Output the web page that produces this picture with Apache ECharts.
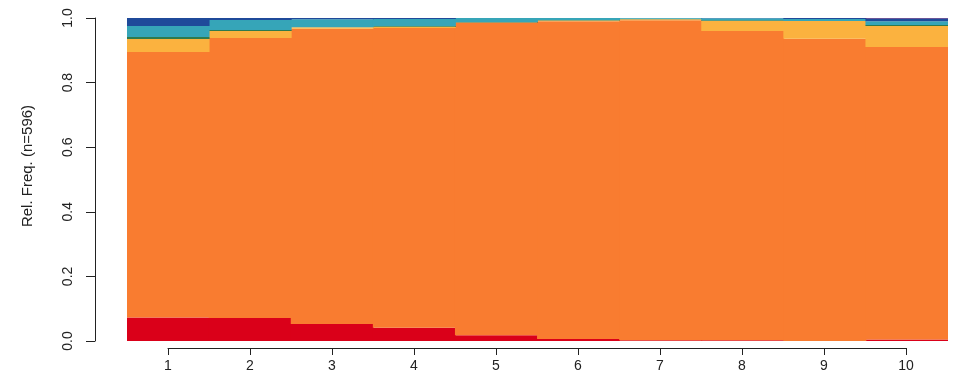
<!DOCTYPE html>
<html>
<head>
<meta charset="utf-8">
<script src="https://cdn.jsdelivr.net/npm/echarts@6/dist/echarts.min.js"></script>
<style>
  html, body { margin: 0; padding: 0; background: #ffffff; }
  #chart { width: 955px; height: 392px; }
</style>
</head>
<body>
<div id="chart"></div>
<script>
// Time positions (sequence steps)
const positions = ['1', '2', '3', '4', '5', '6', '7', '8', '9', '10'];

// Relative frequency of each state at each position (bottom to top)
const stateRed    = [0.073, 0.071, 0.053, 0.041, 0.018, 0.006, 0.002, 0.002, 0.000, 0.005];
const stateOrange = [0.822, 0.867, 0.914, 0.928, 0.968, 0.984, 0.991, 0.958, 0.936, 0.905];
const stateYellow = [0.040, 0.022, 0.004, 0.004, 0.000, 0.002, 0.003, 0.031, 0.055, 0.065];
const stateGreen  = [0.006, 0.003, 0.000, 0.002, 0.002, 0.002, 0.002, 0.002, 0.000, 0.003];
const stateTeal   = [0.034, 0.031, 0.025, 0.022, 0.012, 0.006, 0.002, 0.006, 0.006, 0.012];
const stateBlue   = [0.025, 0.006, 0.004, 0.003, 0.000, 0.000, 0.000, 0.001, 0.003, 0.008];
const statePurple = [0.000, 0.000, 0.000, 0.000, 0.000, 0.000, 0.000, 0.000, 0.000, 0.002];

const yTicks = [0, 0.2, 0.4, 0.6, 0.8, 1.0];
const yTitle = 'Rel. Freq. (n=596)';

const layers = [
  { data: stateRed,    color: '#DA0019' },
  { data: stateOrange, color: '#F97C30' },
  { data: stateYellow, color: '#FBB23F' },
  { data: stateGreen,  color: '#2F7A4E' },
  { data: stateTeal,   color: '#36A5B8' },
  { data: stateBlue,   color: '#1F4A9A' },
  { data: statePurple, color: '#4A2C80' }
];

const font = 'Liberation Sans, Arial, Helvetica, sans-serif';
const chart = echarts.init(document.getElementById('chart'), null, { renderer: 'canvas' });

chart.setOption({
  animation: false,
  backgroundColor: '#ffffff',
  grid: [
    { left: 127, right: 7, top: 18, bottom: 51 },
    // axis-only grid spanning the first to last position centre
    { left: 168, right: 49, top: 18, bottom: 51 }
  ],
  xAxis: [
    {
      type: 'category', gridIndex: 0, data: positions,
      boundaryGap: true, show: false
    },
    {
      type: 'value', gridIndex: 1, min: 1, max: 10, interval: 1,
      offset: 7,
      z: 5,
      splitLine: { show: false },
      axisLine: { show: true, onZero: false, lineStyle: { color: '#222', width: 1 } },
      axisTick: { show: true, length: 7, lineStyle: { color: '#222' } },
      axisLabel: {
        color: '#222', fontSize: 14, fontFamily: font, margin: 11,
        formatter: v => positions[v - 1]
      }
    }
  ],
  yAxis: [
    {
      type: 'value', gridIndex: 0, min: 0, max: 1, interval: 0.2,
      offset: 32,
      splitLine: { show: false },
      axisLine: { show: true, onZero: false, lineStyle: { color: '#222', width: 1 } },
      axisTick: { show: true, length: 9, lineStyle: { color: '#222' } },
      axisLabel: {
        color: '#222', fontSize: 14, fontFamily: font, rotate: 90, margin: 20,
        formatter: v => {
          const t = yTicks.find(k => Math.abs(k - v) < 1e-9);
          return (t === undefined ? v : t).toFixed(1);
        }
      }
    },
    { type: 'value', gridIndex: 1, min: 0, max: 1, show: false }
  ],
  series: layers.map((l, i) => ({
    type: 'bar',
    name: 'state' + (i + 1),
    xAxisIndex: 0,
    yAxisIndex: 0,
    stack: 'states',
    barWidth: 83,
    data: l.data,
    itemStyle: { color: l.color, borderWidth: 0 },
    silent: true
  })),
  graphic: [
    {
      type: 'text',
      x: 28, y: 166,
      rotation: Math.PI / 2,
      style: {
        text: yTitle,
        fill: '#222',
        font: '15px ' + font,
        textAlign: 'center',
        textVerticalAlign: 'middle'
      }
    }
  ]
});
</script>
</body>
</html>
